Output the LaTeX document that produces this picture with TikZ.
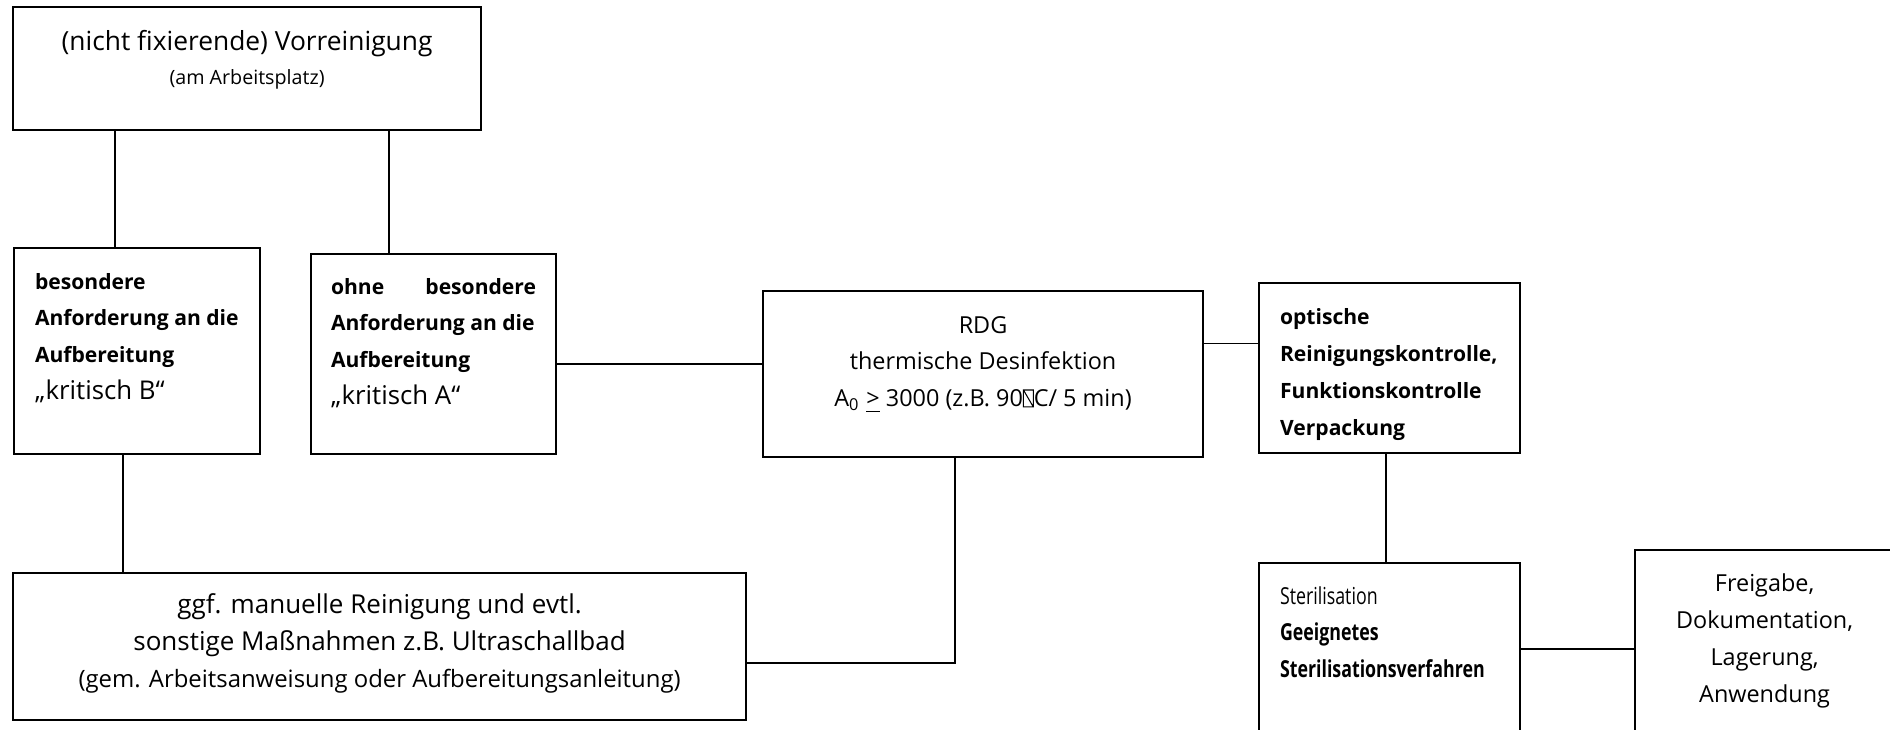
\documentclass[tikz,border=0pt]{standalone}
\usepackage{fontspec}
\setmainfont{Open Sans}
\newfontfamily\condfont[FakeStretch=0.76]{Open Sans}
\newcommand{\tofu}{\tikz[baseline]\draw[line width=0.3pt] (0,0) rectangle (0.42em,0.72em) (0,0.72em) -- (0.42em,0);}

\begin{document}
\begin{tikzpicture}[x=0.1mm, y=-0.1mm,
  box/.style={draw, line width=0.6pt, anchor=north west, inner ysep=0pt,
              font=\fontsize{6.66}{10.5}\selectfont},
  link/.style={line width=0.45pt}]

\useasboundingbox (0,0) rectangle (1890,729);

% Boxes
\node[box, inner xsep=0pt, text width=46.8mm, align=flush center,
      font=\fontsize{7.5}{9.7}\selectfont,
      text height=4.3mm, text depth=8.0mm] (vor) at (12,6)
  {(nicht fixierende) Vorreinigung\\
   \fontsize{5.6}{9.7}\selectfont (am Arbeitsplatz)};

\node[box, inner xsep=2.1mm, text width=20.4mm, align=flush left,
      text height=4.1mm, text depth=16.5mm] (kritB) at (13,247)
  {\fontsize{6}{10.5}\selectfont\bfseries besondere\\
   Anforderung an die\\
   Aufbereitung\\
   \fontsize{7.35}{10.5}\selectfont\mdseries „kritisch B“};

\node[box, inner xsep=2.0mm, text width=20.5mm, align=flush left,
      text height=4.0mm, text depth=16.0mm] (kritA) at (310,253)
  {\fontsize{6}{10.5}\selectfont\bfseries \hbox to\linewidth{ohne\hfill besondere}\\
   Anforderung an die\\
   Aufbereitung\\
   \fontsize{7.35}{10.5}\selectfont\mdseries „kritisch A“};

\node[box, inner xsep=0pt, text width=44.0mm, align=flush center,
      text height=4.2mm, text depth=12.4mm] (RDG) at (762,290)
  {RDG\\
   thermische Desinfektion\\
   A\textsubscript{0} \underline{>} 3000 (z.B. 90\tofu C/ 5 min)};

\node[box, inner xsep=2.1mm, text width=21.9mm, align=flush left,
      font=\fontsize{6}{10.55}\selectfont\bfseries,
      text height=4.1mm, text depth=12.9mm] (optics) at (1258,282)
  {optische\\
   Reinigungskontrolle,\\
   Funktionskontrolle\\
   Verpackung};

\node[box, inner xsep=2.1mm, text width=21.9mm, align=flush left,
      font=\condfont\fontsize{6.66}{10.5}\selectfont,
      text height=4.1mm, text depth=14.2mm] (steril) at (1258,562)
  {Sterilisation\\
   \bfseries Geeignetes\\
   Sterilisationsverfahren};

\node[box, inner xsep=0pt, text width=25.9mm, align=flush center,
      font=\fontsize{6.66}{10.55}\selectfont,
      text height=4.1mm, text depth=15.5mm] (freigabe) at (1634,549)
  {Freigabe,\\
   Dokumentation,\\
   Lagerung,\\
   Anwendung};

\node[box, inner xsep=0pt, text width=73.3mm, align=flush center,
      font=\fontsize{7.4}{10.6}\selectfont,
      text height=4.0mm, text depth=10.7mm] (manual) at (12,572)
  {ggf. manuelle Reinigung und evtl.\\
   sonstige Maßnahmen z.B. Ultraschallbad\\
   \fontsize{6.8}{10.6}\selectfont (gem. Arbeitsanweisung oder Aufbereitungsanleitung)};

% Connectors
\draw[link] ([xshift=-13.2mm]vor.south) -- ([xshift=-13.2mm]vor.south |- kritB.north);
\draw[link] ([xshift=14.2mm]vor.south) -- ([xshift=14.2mm]vor.south |- kritA.north);
\draw[link] ([xshift=-1.4mm]kritB.south) -- ([xshift=-1.4mm]kritB.south |- manual.north);
\draw[link] ([yshift=-1mm]kritA.east) -- ([yshift=-1mm]kritA.east -| RDG.west);
\draw[link] ([yshift=2.45mm]optics.west -| RDG.east) -- ([yshift=2.45mm]optics.west);
\draw[link] ([yshift=-1.65mm]manual.east) -| ([xshift=-2.8mm]RDG.south);
\draw[link] ([xshift=-0.35mm]optics.south) -- ([xshift=-0.35mm]optics.south |- steril.north);
\draw[link] ([yshift=0.55mm]steril.east) -- ([yshift=0.55mm]steril.east -| freigabe.west);

\end{tikzpicture}
\end{document}
